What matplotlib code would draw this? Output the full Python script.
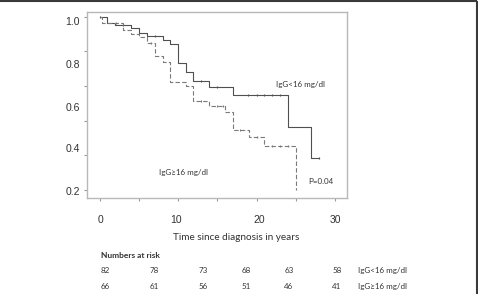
import numpy as np
import matplotlib
matplotlib.use('Agg')
import matplotlib.pyplot as plt
from matplotlib.lines import Line2D

# Kaplan-Meier steps (years, survival)
t_low = [0, 0.85, 1.9, 4.0, 5.0, 6.0, 8.0, 8.9, 10.0, 11.0, 11.9, 13.9, 17.0, 24.0, 26.9, 28.0]
s_low = [1.0, 0.963, 0.952, 0.935, 0.906, 0.886, 0.867, 0.842, 0.732, 0.68, 0.626, 0.594, 0.549, 0.366, 0.183, 0.183]
cens_low = [0.0, 2.9, 7.0, 12.9, 15.0, 18.9, 20.0, 20.9, 22.0, 23.0, 28.0]

t_high = [0, 0.3, 2.9, 4.0, 5.0, 6.0, 7.0, 8.0, 8.9, 11.0, 11.9, 13.9, 16.0, 17.0, 19.0, 21.0, 25.0]
s_high = [1.0, 0.965, 0.921, 0.90, 0.882, 0.846, 0.77, 0.735, 0.62, 0.598, 0.513, 0.484, 0.447, 0.347, 0.308, 0.256, 0.0]
cens_high = [2.0, 6.5, 12.9, 15.0, 15.7, 17.9, 20.0, 22.0, 23.0, 24.0]

ytick_text = ['1.0', '0.8', '0.6', '0.4', '0.2']
xtick_text = ['0', '10', '20', '30']

risk_low = [82, 78, 73, 68, 63, 58]
risk_high = [66, 61, 56, 51, 46, 41]
group_names = ['IgG<16 mg/dl', 'IgG\u226516 mg/dl']

W, H = 478, 294
fig = plt.figure(figsize=(W/100, H/100), dpi=100)
ax = fig.add_axes([86.7/W, 1-198/H, (347-86.7)/W, (198-12)/H])

def km_at(t, s, x):
    i = np.searchsorted(t, x, side='right') - 1
    return np.array(s)[i]

line_c, dash_c = '#505050', '#7a7a7a'
ax.step(t_low, s_low, where='post', color=line_c, lw=0.8)
ax.plot(cens_low, km_at(t_low, s_low, cens_low), ls='none', marker='|', ms=2, mew=0.8, color=line_c)
ax.step(t_high, s_high, where='post', color=dash_c, lw=0.8, dashes=(4, 2))
ax.plot(cens_high, km_at(t_high, s_high, cens_high), ls='none', marker='|', ms=2, mew=0.8, color=dash_c)

ax.set_xlim(-1.7, 31.55)
ax.set_ylim(-0.046, 1.026)
for sp in ax.spines.values():
    sp.set_color('#b8b8b8')
    sp.set_linewidth(1.0)

tick_font = {'family': 'Liberation Sans', 'size': 7.5}
ax.xaxis.remove_overlapping_locs = False
ax.yaxis.remove_overlapping_locs = False
# tick marks
ax.set_yticks(np.arange(0, 1.01, 0.2), labels=[])
ax.set_xticks(np.arange(0, 31, 5), labels=[])
ax.tick_params(which='major', length=2, width=0.8, color='#999999', direction='out')
# labels as printed (they do not sit on the tick marks)
ax.set_yticks([0.974, 0.726, 0.478, 0.242, -0.006], labels=ytick_text, minor=True, fontdict=tick_font)
ax.set_xticks([0, 9.7, 20.4, 30.1], labels=xtick_text, minor=True, fontdict=tick_font)
ax.tick_params(which='minor', length=0, colors='#333333')
ax.tick_params(axis='y', which='minor', pad=5)
ax.tick_params(axis='x', which='minor', pad=12)

txt = dict(family=['Lato', 'DejaVu Sans'], color='#333333')
def ftext(x, y, s, **kw):
    fig.text(x/W, 1-y/H, s, va='center', **{**txt, **kw})

ftext(276, 84, group_names[0], size=5.8)
ftext(159, 173, group_names[1], size=5.8)
ftext(308, 181, 'P=0.04', size=5.8)

ftext(236, 237.5, 'Time since diagnosis in years', size=7.2, ha='center')
ftext(100.7, 255, 'Numbers at risk', size=6.0, weight='bold')
cols = [105, 154, 203, 246, 289, 337]
for y, row, name in zip([270.7, 286.7], [risk_low, risk_high], group_names):
    for x, n in zip(cols, row):
        ftext(x, y, str(n), size=5.8, ha='center')
    ftext(357.7, y, name, size=5.8)

# frame of the original figure panel
fig.add_artist(Line2D([0, 476/W], [1-0.8/H, 1-0.8/H], color='#3a3a3a', lw=1.5))
fig.add_artist(Line2D([476.5/W, 476.5/W], [0, 1-2/H], color='#3a3a3a', lw=1.5))

fig.savefig('out.png', dpi=100)
